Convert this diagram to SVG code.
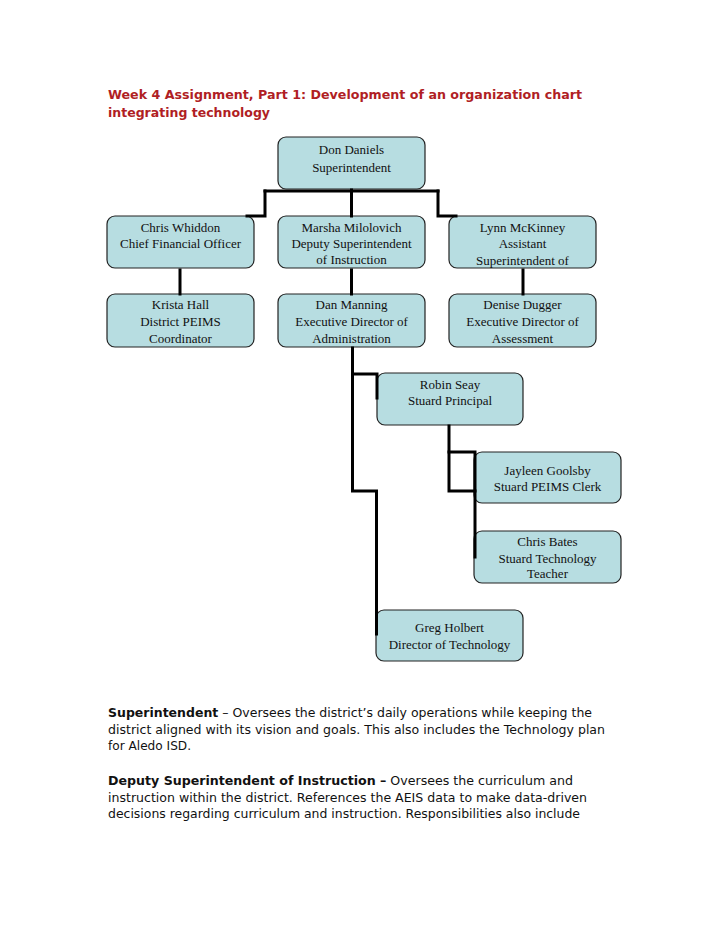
<svg xmlns="http://www.w3.org/2000/svg" width="728" height="942" viewBox="0 0 728 942">
<style>
.title{font-family:"DejaVu Sans","Verdana",sans-serif;font-weight:bold;font-size:13px;fill:#b01e24}
.body{font-family:"DejaVu Sans","Verdana",sans-serif;font-size:13px;fill:#111}
.b{font-weight:bold}
.box{fill:#b7dde1;stroke:#222;stroke-width:1.2}
.lbl{font-family:"Liberation Serif","Times New Roman",serif;font-size:13px;fill:#111;text-anchor:middle}
.conn{fill:none;stroke:#000;stroke-width:3;stroke-linecap:square}
</style>
<defs>
<clipPath id="clipLynn"><rect x="449" y="216" width="147" height="52" rx="8"/></clipPath>
</defs>
<rect width="728" height="942" fill="#fff"/>
<g id="title">
<text class="title" x="108" y="99" textLength="474" lengthAdjust="spacingAndGlyphs">Week 4 Assignment, Part 1: Development of an organization chart</text>
<text class="title" x="108" y="117" textLength="162" lengthAdjust="spacingAndGlyphs">integrating technology</text>
</g>
<g id="n-don"><rect class="box" x="278" y="137" width="147" height="52" rx="8"/><text class="lbl" x="351.5" y="154">Don Daniels</text><text class="lbl" x="351.5" y="172">Superintendent</text></g>
<g id="n-chris-w"><rect class="box" x="107" y="216" width="147" height="52" rx="8"/><text class="lbl" x="180.5" y="232">Chris Whiddon</text><text class="lbl" x="180.5" y="248">Chief Financial Officer</text></g>
<g id="n-marsha"><rect class="box" x="278" y="216" width="147" height="52" rx="8"/><text class="lbl" x="351.5" y="232">Marsha Milolovich</text><text class="lbl" x="351.5" y="248">Deputy Superintendent</text><text class="lbl" x="351.5" y="264">of Instruction</text></g>
<g id="n-lynn"><rect class="box" x="449" y="216" width="147" height="52" rx="8"/><g clip-path="url(#clipLynn)"><text class="lbl" x="522.5" y="232">Lynn McKinney</text><text class="lbl" x="522.5" y="248">Assistant</text><text class="lbl" x="522.5" y="265">Superintendent of</text></g></g>
<g id="n-krista"><rect class="box" x="107" y="294" width="147" height="53" rx="8"/><text class="lbl" x="180.5" y="309">Krista Hall</text><text class="lbl" x="180.5" y="326">District PEIMS</text><text class="lbl" x="180.5" y="343">Coordinator</text></g>
<g id="n-dan"><rect class="box" x="278" y="294" width="147" height="53" rx="8"/><text class="lbl" x="351.5" y="309">Dan Manning</text><text class="lbl" x="351.5" y="326">Executive Director of</text><text class="lbl" x="351.5" y="343">Administration</text></g>
<g id="n-denise"><rect class="box" x="449" y="294" width="147" height="53" rx="8"/><text class="lbl" x="522.5" y="309">Denise Dugger</text><text class="lbl" x="522.5" y="326">Executive Director of</text><text class="lbl" x="522.5" y="343">Assessment</text></g>
<g id="n-robin"><rect class="box" x="377" y="373" width="146" height="52" rx="8"/><text class="lbl" x="450" y="389">Robin Seay</text><text class="lbl" x="450" y="405">Stuard Principal</text></g>
<g id="n-jayleen"><rect class="box" x="474" y="452" width="147" height="51" rx="8"/><text class="lbl" x="547.5" y="475">Jayleen Goolsby</text><text class="lbl" x="547.5" y="491">Stuard PEIMS Clerk</text></g>
<g id="n-chris-b"><rect class="box" x="474" y="531" width="147" height="52" rx="8"/><text class="lbl" x="547.5" y="546">Chris Bates</text><text class="lbl" x="547.5" y="563">Stuard Technology</text><text class="lbl" x="547.5" y="578">Teacher</text></g>
<g id="n-greg"><rect class="box" x="376" y="610" width="147" height="51" rx="8"/><text class="lbl" x="449.5" y="632">Greg Holbert</text><text class="lbl" x="449.5" y="649">Director of Technology</text></g>
<g id="connectors">
<path class="conn" d="M265,191 H438"/>
<path class="conn" d="M351.5,190 V216"/>
<path class="conn" d="M265,191 V216 H247"/>
<path class="conn" d="M438,191 V216 H456"/>
<path class="conn" d="M180,270 V294"/>
<path class="conn" d="M351.5,270 V294"/>
<path class="conn" d="M523,270 V294"/>
<path class="conn" d="M352.5,348 V491 H376.5 V634"/>
<path class="conn" d="M352.5,374 H377 V398"/>
<path class="conn" d="M449,426 V491 H475"/>
<path class="conn" d="M449,452 H475 V557"/>
</g>
<g id="description">
<text class="body" x="108" y="717" textLength="484" lengthAdjust="spacingAndGlyphs"><tspan class="b">Superintendent</tspan> – Oversees the district’s daily operations while keeping the</text>
<text class="body" x="108" y="734" textLength="497" lengthAdjust="spacingAndGlyphs">district aligned with its vision and goals. This also includes the Technology plan</text>
<text class="body" x="108" y="750" textLength="83" lengthAdjust="spacingAndGlyphs">for Aledo ISD.</text>
<text class="body" x="108" y="785" textLength="465" lengthAdjust="spacingAndGlyphs"><tspan class="b">Deputy Superintendent of Instruction –</tspan> Oversees the curriculum and</text>
<text class="body" x="108" y="802" textLength="479" lengthAdjust="spacingAndGlyphs">instruction within the district. References the AEIS data to make data-driven</text>
<text class="body" x="108" y="818" textLength="472" lengthAdjust="spacingAndGlyphs">decisions regarding curriculum and instruction. Responsibilities also include</text>
</g>
</svg>
